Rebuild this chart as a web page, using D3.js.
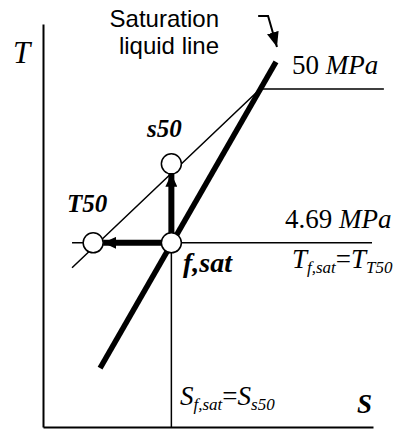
<!DOCTYPE html>
<html lang="en">
<head>
<meta charset="utf-8">
<title>T-s diagram, compressed liquid</title>
<style>
  body { margin: 0; background: #fff; }
  svg { display: block; }
  .axis path { stroke: #000; stroke-width: 2px; }
  .thin { fill: none; stroke: #000; stroke-width: 1.5px; }
  .sat { fill: none; stroke: #000; stroke-width: 5.5px; }
  .arrow { fill: none; stroke: #000; stroke-width: 6px; }
  .state { fill: #fff; stroke: #000; stroke-width: 1.5px; }
  text { font-family: "Liberation Serif", "Times New Roman", serif; fill: #000; }
  .sans { font-family: "Liberation Sans", Arial, sans-serif; }
</style>
</head>
<body>
<script src="https://cdnjs.cloudflare.com/ajax/libs/d3/7.8.5/d3.min.js"></script>
<script>
// entropy s and temperature T in arbitrary diagram units
var satLiquid = [{s: 17.3, T: 14.6}, {s: 70.6, T: 90.6}];
var isobar50 = [{s: 8.8, T: 39.5}, {s: 65.8, T: 83.9}, {s: 103.3, T: 83.9}];
var isobar469 = [{s: 8.8, T: 45.7}, {s: 99.7, T: 45.7}];
var constS = [{s: 38.9, T: 45.7}, {s: 38.9, T: 0}];
var states = [
  {name: "f,sat", s: 38.9, T: 45.7},
  {name: "s50", s: 38.9, T: 65.3},
  {name: "T50", s: 15.2, T: 45.7}
];
var pointer = [{s: 65.2, T: 102}, {s: 68.2, T: 102}, {s: 70.9, T: 94.3}];

var width = 404, height = 430;
var r = 10;

var x = d3.scaleLinear().domain([0, 100]).range([43, 373]);
var y = d3.scaleLinear().domain([0, 100]).range([427, 24]);

var svg = d3.select("body").append("svg")
  .attr("width", width)
  .attr("height", height);

var defs = svg.append("defs");
defs.append("marker")
  .attr("id", "head")
  .attr("markerUnits", "userSpaceOnUse")
  .attr("viewBox", "0 0 13 12")
  .attr("refX", 13).attr("refY", 6)
  .attr("markerWidth", 13).attr("markerHeight", 12)
  .attr("orient", "auto")
  .append("path").attr("d", "M0,0L13,6L0,12Z").attr("fill", "#000");
defs.append("marker")
  .attr("id", "headThin")
  .attr("markerUnits", "userSpaceOnUse")
  .attr("viewBox", "0 0 15 12")
  .attr("refX", 15).attr("refY", 6)
  .attr("markerWidth", 15).attr("markerHeight", 12)
  .attr("orient", "auto")
  .append("path").attr("d", "M0,0L15,6L0,12Z").attr("fill", "#000");

var line = d3.line()
  .x(function(d) { return x(d.s); })
  .y(function(d) { return y(d.T); });

// axes, no ticks
svg.append("g").attr("class", "axis")
  .attr("transform", "translate(0," + y(0) + ")")
  .call(d3.axisBottom(x).ticks(0).tickSizeOuter(0));
svg.append("g").attr("class", "axis")
  .attr("transform", "translate(" + x(0) + ",0)")
  .call(d3.axisLeft(y).ticks(0).tickSizeOuter(0));

svg.append("path").attr("class", "thin").attr("d", line(isobar50));
svg.append("path").attr("class", "thin").attr("d", line(isobar469));
svg.append("path").attr("class", "thin").attr("d", line(constS));
svg.append("path").attr("class", "sat").attr("d", line(satLiquid));

// arrows from f,sat to the two 50 MPa states
var from = states[0];
states.slice(1).forEach(function(d) {
  var x0 = x(from.s), y0 = y(from.T), x1 = x(d.s), y1 = y(d.T);
  var len = Math.hypot(x1 - x0, y1 - y0);
  svg.append("line").attr("class", "arrow")
    .attr("x1", x0).attr("y1", y0)
    .attr("x2", x1 - (x1 - x0) / len * r)
    .attr("y2", y1 - (y1 - y0) / len * r)
    .attr("marker-end", "url(#head)");
});

svg.selectAll("circle.state")
  .data(states)
  .enter().append("circle")
  .attr("class", "state")
  .attr("cx", function(d) { return x(d.s); })
  .attr("cy", function(d) { return y(d.T); })
  .attr("r", r);

svg.append("path")
  .attr("d", line(pointer))
  .attr("fill", "none").attr("stroke", "#000").attr("stroke-width", 2)
  .attr("marker-end", "url(#headThin)");

// labels
svg.append("text").attr("x", 13).attr("y", 63)
  .style("font-size", "31px").style("font-style", "italic").text("T");

svg.append("text").attr("class", "sans").attr("text-anchor", "end")
  .attr("x", 219).attr("y", 27).style("font-size", "24px").text("Saturation");
svg.append("text").attr("class", "sans").attr("text-anchor", "end")
  .attr("x", 219).attr("y", 54).style("font-size", "24px").text("liquid line");

var t50 = svg.append("text").attr("x", 292).attr("y", 74).style("font-size", "27px");
t50.append("tspan").text("50 ");
t50.append("tspan").style("font-style", "italic").text("MPa");

var t469 = svg.append("text").attr("x", 285).attr("y", 228).style("font-size", "27px");
t469.append("tspan").text("4.69 ");
t469.append("tspan").style("font-style", "italic").text("MPa");

svg.append("text").attr("x", 147).attr("y", 137)
  .style("font-size", "25px").style("font-style", "italic").style("font-weight", "bold").text("s50");
svg.append("text").attr("x", 67).attr("y", 212)
  .style("font-size", "25px").style("font-style", "italic").style("font-weight", "bold").text("T50");
svg.append("text").attr("x", 183).attr("y", 272)
  .style("font-size", "28px").style("font-style", "italic").style("font-weight", "bold").text("f,sat");

function subLabel(px, py, main, sub1, sub2) {
  var t = svg.append("text").attr("x", px).attr("y", py)
    .style("font-size", "27px").style("font-style", "italic");
  t.append("tspan").text(main);
  t.append("tspan").attr("dy", 5).style("font-size", "17px").text(sub1);
  t.append("tspan").attr("dy", -5).style("font-style", "normal").text("=");
  t.append("tspan").text(main);
  t.append("tspan").attr("dy", 5).style("font-size", "17px").text(sub2);
}
subLabel(292, 268, "T", "f,sat", "T50");
subLabel(180, 405, "S", "f,sat", "s50");

svg.append("text").attr("x", 357).attr("y", 413)
  .style("font-size", "27px").style("font-style", "italic").style("font-weight", "bold").text("S");
</script>
</body>
</html>
